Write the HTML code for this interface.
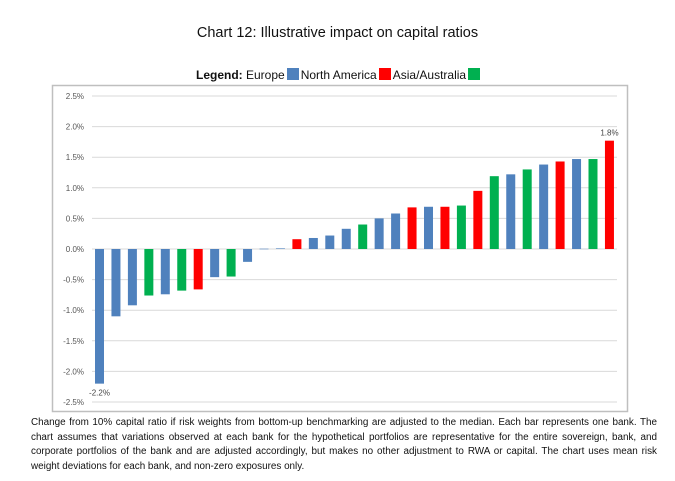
<!DOCTYPE html>
<html><head><meta charset="utf-8"><style>
body{margin:0;width:675px;height:481px;background:#fff;font-family:"Liberation Sans",sans-serif;position:relative;overflow:hidden}
#title{position:absolute;left:0;width:675px;top:25px;text-align:center;font-size:14.5px;color:#111}
#legend{position:absolute;left:196px;top:68px;font-size:12px;color:#111;white-space:nowrap}
.sw{display:inline-block;width:12px;height:12px;vertical-align:-1px;margin:0 2px}
#caption{position:absolute;left:31px;top:416px;width:626px;font-size:9.9px;line-height:14.5px;color:#111}
#caption .j{text-align:justify;text-align-last:justify;white-space:nowrap}
svg{position:absolute;left:0;top:0}
</style></head><body>
<div id="title">Chart 12: Illustrative impact on capital ratios</div>
<div id="legend"><b>Legend:</b> Europe<span class="sw" style="background:#4f81bd"></span>North America<span class="sw" style="background:#ff0000"></span>Asia/Australia<span class="sw" style="background:#00b050"></span></div>
<svg id="chart" width="675" height="481"></svg>
<div id="caption">
<div class="j">Change from 10% capital ratio if risk weights from bottom-up benchmarking are adjusted to the median. Each bar represents one bank. The</div>
<div class="j">chart assumes that variations observed at each bank for the hypothetical portfolios are representative for the entire sovereign, bank, and</div>
<div class="j">corporate portfolios of the bank and are adjusted accordingly, but makes no other adjustment to RWA or capital. The chart uses mean risk</div>
<div>weight deviations for each bank, and non-zero exposures only.</div>
</div>
<script>
const values=[-2.2,-1.1,-0.92,-0.76,-0.74,-0.68,-0.66,-0.46,-0.45,-0.21,0.005,0.01,0.16,0.18,0.22,0.33,0.40,0.50,0.58,0.68,0.69,0.69,0.71,0.95,1.19,1.22,1.30,1.38,1.43,1.47,1.47,1.77];
const regions=["E","E","E","A","E","A","N","E","A","E","E","E","N","E","E","E","A","E","E","N","E","N","A","N","A","E","A","E","N","E","A","N"];
const ticks=[2.5,2.0,1.5,1.0,0.5,0.0,-0.5,-1.0,-1.5,-2.0,-2.5];
const tickLabels=["2.5%","2.0%","1.5%","1.0%","0.5%","0.0%","-0.5%","-1.0%","-1.5%","-2.0%","-2.5%"];
const dataLabels={0:"-2.2%",31:"1.8%"};
const colors={E:"#4f81bd",N:"#ff0000",A:"#00b050"};
const svg=document.getElementById('chart');const NS="http://www.w3.org/2000/svg";
function y(v){return 249-v*61.2;}
function x(i){return 95+i*16.45;}
function mk(t,a){const e=document.createElementNS(NS,t);for(const k in a)e.setAttribute(k,a[k]);svg.appendChild(e);return e;}
let fr=mk('rect',{x:52.5,y:85.5,width:575,height:326,fill:'none',stroke:'#bfbfbf','stroke-width':1.5});


ticks.forEach((t,i)=>{
 let l=mk('line',{x1:92,x2:617,y1:y(t),y2:y(t),stroke:'#d9d9d9','stroke-width':1});
 
 
 let tx=mk('text',{x:84,y:y(t)+3,'text-anchor':'end','font-size':8,fill:'#555','font-family':'Liberation Sans'});
 tx.textContent=tickLabels[i];
 
 
});
values.forEach((v,i)=>{
 const top=Math.min(y(v),y(0)),h=Math.max(Math.abs(y(v)-y(0)),0.6);
 let r=mk('rect',{x:x(i),y:top,width:9,height:h,fill:colors[regions[i]]});
 
 
 if(dataLabels[i]){
  let t=mk('text',{x:x(i)+4.5,y:v<0?y(v)+12:y(v)-5,'text-anchor':'middle','font-size':8,fill:'#444','font-family':'Liberation Sans'});
  t.textContent=dataLabels[i];
  
  
 }
});
</script>
</body></html>
